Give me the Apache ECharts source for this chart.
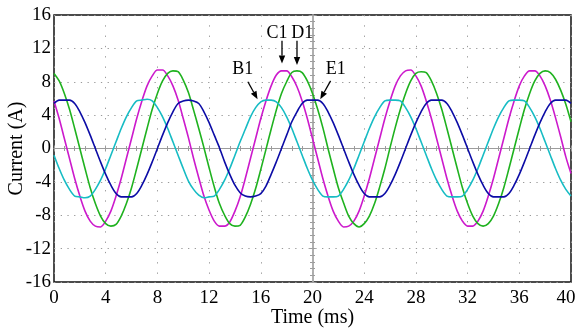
<!DOCTYPE html>
<html><head><meta charset="utf-8">
<script src="https://cdn.jsdelivr.net/npm/echarts@6/dist/echarts.min.js"></script>
<style>html,body{margin:0;padding:0;background:#fff}#c{width:576px;height:328px}</style>
</head><body><div id="c"></div>
<script>
// ---- data ----
const timeMs = [0,0.4,0.8,1.2,1.6,2,2.4,2.8,3.2,3.6,4,4.4,4.8,5.2,5.6,6,6.4,6.8,7.2,7.6,8,8.4,8.8,9.2,9.6,10,10.4,10.8,11.2,11.6,12,12.4,12.8,13.2,13.6,14,14.4,14.8,15.2,15.6,16,16.4,16.8,17.2,17.6,18,18.4,18.8,19.2,19.6,20,20.4,20.8,21.2,21.6,22,22.4,22.8,23.2,23.6,24,24.4,24.8,25.2,25.6,26,26.4,26.8,27.2,27.6,28,28.4,28.8,29.2,29.6,30,30.4,30.8,31.2,31.6,32,32.4,32.8,33.2,33.6,34,34.4,34.8,35.2,35.6,36,36.4,36.8,37.2,37.6,38,38.4,38.8,39.2,39.6,40];

const currentMagenta = [5.7,3.6,1.2,-1.2,-3.6,-5.7,-7.5,-8.7,-9.3,-9.4,-8.7,-7.5,-5.7,-3.6,-1.2,1.2,3.6,5.7,7.5,8.7,9.4,9.4,8.7,7.5,
  5.8,3.6,1.3,-1.2,-3.5,-5.7,-7.4,-8.7,-9.3,-9.3,-8.8,-7.5,-5.8,-3.6,-1.2,1.2,3.6,5.7,7.5,8.8,9.3,9.3,8.6,7.4,
  5.7,3.6,1.2,-1.2,-3.6,-5.7,-7.5,-8.7,-9.4,-9.3,-8.7,-7.5,-5.7,-3.6,-1.2,1.2,3.6,5.7,7.5,8.7,9.3,9.4,8.7,7.5,
  5.7,3.6,1.2,-1.2,-3.6,-5.7,-7.5,-8.7,-9.3,-9.3,-8.7,-7.5,-5.7,-3.6,-1.2,1.2,3.6,5.7,7.5,8.7,9.3,9.3,8.7,7.5,
  5.8,3.7,1.4,-1.0,-3.0];

const currentGreen = [9.0,8.1,6.6,4.7,2.4,0,-2.4,-4.7,-6.6,-8.1,-9.0,-9.3,-9.1,-8.1,-6.6,-4.7,-2.4,0,2.4,4.7,6.6,8.1,9.0,9.3,
  9.2,8.2,6.7,4.6,2.4,0.1,-2.3,-4.6,-6.6,-8.0,-9.0,-9.3,-9.2,-8.2,-6.7,-4.8,-2.5,-0.1,2.3,4.6,6.6,8.0,9.1,9.3,
  9.1,8.1,6.6,4.7,2.5,0,-2.4,-4.7,-6.5,-8.1,-9.0,-9.4,-9.0,-8.1,-6.6,-4.6,-2.4,0.1,2.5,4.7,6.6,8.1,9.0,9.2,
  9.1,8.1,6.6,4.7,2.4,0,-2.4,-4.7,-6.6,-8.1,-9.0,-9.3,-9.0,-8.1,-6.6,-4.7,-2.4,0,2.4,4.7,6.6,8.1,9.0,9.3,
  9.1,8.3,7.0,5.3,3.2];

const currentCyan = [-0.8,-2.4,-3.8,-4.9,-5.7,-5.8,-5.9,-5.7,-4.9,-3.8,-2.4,-0.8,0.8,2.4,3.8,4.9,5.7,5.8,5.9,5.7,4.9,3.8,2.4,0.8,
  -0.8,-2.4,-3.9,-4.9,-5.6,-5.9,-5.8,-5.7,-4.9,-3.8,-2.4,-0.8,0.8,2.3,3.8,4.9,5.6,5.8,5.8,5.6,4.9,3.8,2.4,0.8,
  -0.8,-2.4,-3.8,-4.9,-5.7,-5.8,-5.8,-5.7,-4.9,-3.8,-2.4,-0.8,0.8,2.4,3.8,4.9,5.7,5.8,5.8,5.7,4.9,3.8,2.4,0.8,
  -0.8,-2.4,-3.8,-4.9,-5.7,-5.8,-5.8,-5.7,-4.9,-3.8,-2.4,-0.8,0.8,2.4,3.8,4.9,5.7,5.8,5.8,5.7,4.9,3.8,2.4,0.8,
  -0.8,-2.4,-3.8,-4.9,-5.7];

const currentBlue = [5.4,5.8,5.8,5.8,5.4,4.4,3.1,1.6,0,-1.6,-3.1,-4.4,-5.4,-5.8,-5.8,-5.8,-5.4,-4.4,-3.1,-1.6,0,1.6,3.1,4.4,
  5.4,5.7,5.8,5.7,5.4,4.4,3.1,1.6,0.1,-1.6,-3.1,-4.4,-5.3,-5.7,-5.8,-5.7,-5.4,-4.5,-3.1,-1.6,0,1.6,3.2,4.4,
  5.4,5.8,5.8,5.8,5.4,4.4,3.1,1.6,0,-1.6,-3.1,-4.4,-5.4,-5.8,-5.8,-5.8,-5.4,-4.4,-3.1,-1.6,0,1.6,3.1,4.4,
  5.4,5.8,5.8,5.8,5.4,4.4,3.1,1.6,0,-1.6,-3.1,-4.4,-5.4,-5.8,-5.8,-5.8,-5.4,-4.4,-3.1,-1.6,0,1.6,3.1,4.4,
  5.4,5.8,5.8,5.8,5.4];

const xTickValues = [0,4,8,12,16,20,24,28,32,36,40];
const yTickValues = [-16,-12,-8,-4,0,4,8,12,16];

// annotation labels and arrows, in data units (ms, A)
const annotationLabels = ['B1','C1','D1','E1'];
const annotationTextAt = [[14.6,9.5],[17.25,13.85],[19.2,13.85],[21.8,9.5]];
const annotationArrowFrom = [[15.0,8.0],[17.64,12.9],[18.8,12.9],[21.4,8.1]];
const annotationArrowTo = [[15.75,5.9],[17.64,10.2],[18.8,10.0],[20.6,5.9]];

// ---- chart ----
const FONT = '"Liberation Serif","Times New Roman",serif';
const gridL = 54, gridR = 5, gridT = 15, gridB = 46;
const gridW = 576 - gridL - gridR;
const chart = echarts.init(document.getElementById('c'), null, {renderer: 'canvas'});
const pairs = v => timeMs.map((t, i) => [t, v[i]]);
const labelStyle = {fontFamily: FONT, fontSize: 19, color: '#000'};
const nameStyle = {fontFamily: FONT, fontSize: 20, color: '#000'};
const centerGray = '#9c9c9c';

function centerAxisX(pos) {
  return {type: 'value', min: 0, max: 40, interval: 4, position: pos,
    axisLine: {show: true, onZero: true, onZeroAxisIndex: 0, lineStyle: {color: centerGray, width: 1}},
    axisTick: {show: true, length: 3, lineStyle: {color: centerGray}},
    minorTick: {show: true, splitNumber: 5, length: 2.5, lineStyle: {color: centerGray}},
    axisLabel: {show: false}, splitLine: {show: false}};
}
function centerAxisY(pos) {
  return {type: 'value', min: -16, max: 16, interval: 4, position: pos, offset: -gridW / 2,
    axisLine: {show: true, onZero: false, lineStyle: {color: '#aaaaaa', width: 1.5}},
    axisTick: {show: true, length: 3, lineStyle: {color: centerGray}},
    minorTick: {show: true, splitNumber: 5, length: 2.5, lineStyle: {color: centerGray}},
    axisLabel: {show: false}, splitLine: {show: false}};
}

const option = {
  animation: false,
  backgroundColor: '#fff',
  grid: {left: gridL, right: gridR, top: gridT, bottom: gridB, show: true,
    containLabel: false, outerBoundsMode: 'none',
    borderColor: '#111', borderWidth: 1.5, backgroundColor: 'transparent'},
  xAxis: [
    {type: 'value', min: xTickValues[0], max: xTickValues[xTickValues.length - 1], interval: 4, position: 'bottom',
      axisLine: {show: false, onZero: false}, axisTick: {show: false},
      axisLabel: Object.assign({}, labelStyle, {margin: 7,
        formatter: v => v === 40 ? '{last|40}' : String(v),
        rich: {last: Object.assign({}, labelStyle, {padding: [0, 10, 0, 0]})}}),
      splitLine: {show: true, lineStyle: {color: '#9a9a9a', width: 1, type: [1.3, 9]}},
      name: 'Time (ms)', nameLocation: 'middle', nameGap: 26, nameMoveOverlap: false, nameTextStyle: nameStyle},
    centerAxisX('bottom'),
    centerAxisX('top')
  ],
  yAxis: [
    {type: 'value', min: yTickValues[0], max: yTickValues[yTickValues.length - 1], interval: 4,
      axisLine: {show: false, onZero: false}, axisTick: {show: false},
      axisLabel: Object.assign({}, labelStyle, {margin: 3}),
      splitLine: {show: true, lineStyle: {color: '#9a9a9a', width: 1, type: [1.3, 5.4]}},
      name: 'Current (A)', nameLocation: 'middle', nameGap: 27, nameMoveOverlap: false, nameTextStyle: nameStyle},
    centerAxisY('left'),
    centerAxisY('right')
  ],
  series: [
    {name: 'magenta', type: 'line', data: pairs(currentMagenta), showSymbol: false, smooth: 0.3,
      lineStyle: {color: '#cc1acc', width: 1.6}, z: 3},
    {name: 'green', type: 'line', data: pairs(currentGreen), showSymbol: false, smooth: 0.3,
      lineStyle: {color: '#1fb21f', width: 1.6}, z: 3},
    {name: 'cyan', type: 'line', data: pairs(currentCyan), showSymbol: false, smooth: 0.3,
      lineStyle: {color: '#17bcc4', width: 1.6}, z: 3},
    {name: 'blue', type: 'line', data: pairs(currentBlue), showSymbol: false, smooth: 0.3,
      lineStyle: {color: '#0c0ca6', width: 1.6}, z: 3}
  ]
};
chart.setOption(option);

// annotations positioned through the axes' scales
const toPx = p => chart.convertToPixel({xAxisIndex: 0, yAxisIndex: 0}, p);
const graphics = [];
annotationLabels.forEach((lab, i) => {
  const tp = toPx(annotationTextAt[i]);
  const a = toPx(annotationArrowFrom[i]);
  const b = toPx(annotationArrowTo[i]);
  const dx = b[0] - a[0], dy = b[1] - a[1];
  const len = Math.hypot(dx, dy);
  const ux = dx / len, uy = dy / len;
  const headL = 8, headW = 3.2;
  const bx = b[0] - ux * headL, by = b[1] - uy * headL;
  graphics.push({type: 'text', x: tp[0], y: tp[1], z: 10,
    style: {text: lab, font: '18px "Liberation Serif", serif', fill: '#000', align: 'center', verticalAlign: 'middle'}});
  graphics.push({type: 'line', z: 10, shape: {x1: a[0], y1: a[1], x2: bx, y2: by},
    style: {stroke: '#000', lineWidth: 1.3}});
  graphics.push({type: 'polygon', z: 10,
    shape: {points: [[b[0], b[1]], [bx - uy * headW, by + ux * headW], [bx + uy * headW, by - ux * headW]]},
    style: {fill: '#000'}});
});
chart.setOption({graphic: graphics});
</script>
</body></html>
